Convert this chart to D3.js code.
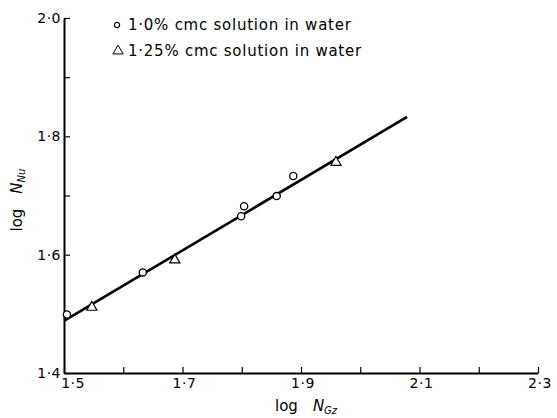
<!DOCTYPE html>
<html>
<head>
<meta charset="utf-8">
<script src="https://cdn.jsdelivr.net/npm/d3@7"></script>
<style>
  body { margin: 0; background: #fff; }
  text { font-family: "DejaVu Sans", sans-serif; fill: #000; }
</style>
</head>
<body>
<script>
    // data
    var cmc10X = [1.505, 1.633, 1.799, 1.804, 1.859, 1.887];
    var cmc10Y = [1.499, 1.570, 1.665, 1.682, 1.699, 1.733];
    var cmc125X = [1.547, 1.687, 1.959];
    var cmc125Y = [1.511, 1.591, 1.756];
    var fitX = [1.5, 2.079];
    var fitY = [1.488, 1.833];
    var xTicks = [1.5, 1.6, 1.7, 1.8, 1.9, 2.0, 2.1, 2.2, 2.3];
    var xLabels = [1.5, 1.7, 1.9, 2.1, 2.3];
    var yTicks = [1.4, 1.5, 1.6, 1.7, 1.8, 1.9, 2.0];
    var yLabels = [1.4, 1.6, 1.8, 2.0];
    var legendNames = ["1\u00b70% cmc solution  in water", "1\u00b725% cmc solution in water"];

    var margin = {top: 18, right: 19, bottom: 45, left: 64},
    width = 557 - margin.left - margin.right,
    height = 418 - margin.top - margin.bottom;

    var fmt = function(v) { return v.toFixed(1).replace(".", "\u00b7"); };

    var x = d3.scaleLinear().domain([1.5, 2.3]).range([0, width]);
    var y = d3.scaleLinear().domain([1.4, 2.0]).range([height, 0]);

    var svg = d3.select("body").append("svg")
      .attr("width", 557)
      .attr("height", 418)
    .append("g")
      .attr("transform", "translate(" + margin.left + "," + margin.top + ")");

    //x axis, ticks pointing inward
    var xAxis = svg.append("g")
      .attr("transform", "translate(0," + height + ")")
      .call(d3.axisBottom(x).tickValues(xTicks).tickSize(-6).tickSizeOuter(0).tickFormat(""));
    xAxis.select(".domain").attr("stroke-width", 2);
    xAxis.selectAll(".tick line").attr("stroke-width", 1.2);

    svg.selectAll(".xlab")
      .data(xLabels)
      .enter().append("text")
      .attr("x", function(d) { return x(d) + (d === 1.5 ? 9 : 2); })
      .attr("y", height + 15)
      .attr("text-anchor", "middle")
      .style("font-size", "14px")
      .style("letter-spacing", "0.5px")
      .text(fmt);

    //y axis
    var yAxis = svg.append("g")
      .call(d3.axisLeft(y).tickValues(yTicks).tickSize(-6).tickSizeOuter(0).tickFormat(""));
    yAxis.select(".domain").attr("stroke-width", 2);
    yAxis.selectAll(".tick line").attr("stroke-width", 1.2);

    svg.selectAll(".ylab")
      .data(yLabels)
      .enter().append("text")
      .attr("x", -3)
      .attr("y", function(d) { return y(d); })
      .attr("dy", "0.35em")
      .attr("text-anchor", "end")
      .style("font-size", "14px")
      .style("letter-spacing", "0.5px")
      .text(fmt);

    //fitted line
    var line = d3.line()
      .x(function(d) { return x(d[0]); })
      .y(function(d) { return y(d[1]); });
    svg.append("path")
      .datum(d3.zip(fitX, fitY))
      .attr("fill", "none")
      .attr("stroke", "#000")
      .attr("stroke-width", 2.6)
      .attr("d", line);

    //1.0% points
    svg.selectAll(".c10")
      .data(d3.zip(cmc10X, cmc10Y))
      .enter().append("circle")
      .attr("cx", function(d) { return x(d[0]); })
      .attr("cy", function(d) { return y(d[1]); })
      .attr("r", 3.6)
      .attr("fill", "#fff")
      .attr("stroke", "#000")
      .attr("stroke-width", 1.3);

    //1.25% points
    var tri = d3.symbol().type(d3.symbolTriangle).size(45);
    svg.selectAll(".c125")
      .data(d3.zip(cmc125X, cmc125Y))
      .enter().append("path")
      .attr("transform", function(d) { return "translate(" + x(d[0]) + "," + y(d[1]) + ")"; })
      .attr("d", tri)
      .attr("fill", "#fff")
      .attr("stroke", "#000")
      .attr("stroke-width", 1.2);

    //legend
    var legend = svg.append("g").attr("transform", "translate(53,7)");
    legend.append("circle")
      .attr("cx", 0).attr("cy", 0).attr("r", 2.6)
      .attr("fill", "#fff").attr("stroke", "#000").attr("stroke-width", 1.2);
    legend.append("path")
      .attr("transform", "translate(1,26)")
      .attr("d", d3.symbol().type(d3.symbolTriangle).size(45))
      .attr("fill", "#fff").attr("stroke", "#000").attr("stroke-width", 1);
    legend.selectAll(".lg")
      .data(legendNames)
      .enter().append("text")
      .attr("x", 11)
      .attr("y", function(d, i) { return i * 26; })
      .attr("dy", "0.35em")
      .style("font-size", "15px")
      .style("letter-spacing", "0.75px")
      .text(function(d) { return d; });

    //axis titles
    var xt = svg.append("text")
      .attr("x", 211)
      .attr("y", height + 38)
      .style("font-size", "15px");
    xt.append("tspan").text("log\u2002\u2002");
    xt.append("tspan").style("font-style", "italic").text("N");
    xt.append("tspan").style("font-style", "italic").style("font-size", "10px").attr("dy", 3).text("Gz");

    var yt = svg.append("text")
      .attr("transform", "translate(-42," + (y(1.7) + 36) + ") rotate(-90)")
      .style("font-size", "15px");
    yt.append("tspan").text("log\u2002\u2002");
    yt.append("tspan").style("font-style", "italic").text("N");
    yt.append("tspan").style("font-style", "italic").style("font-size", "10px").attr("dy", 3).text("Nu");
</script>
</body>
</html>
